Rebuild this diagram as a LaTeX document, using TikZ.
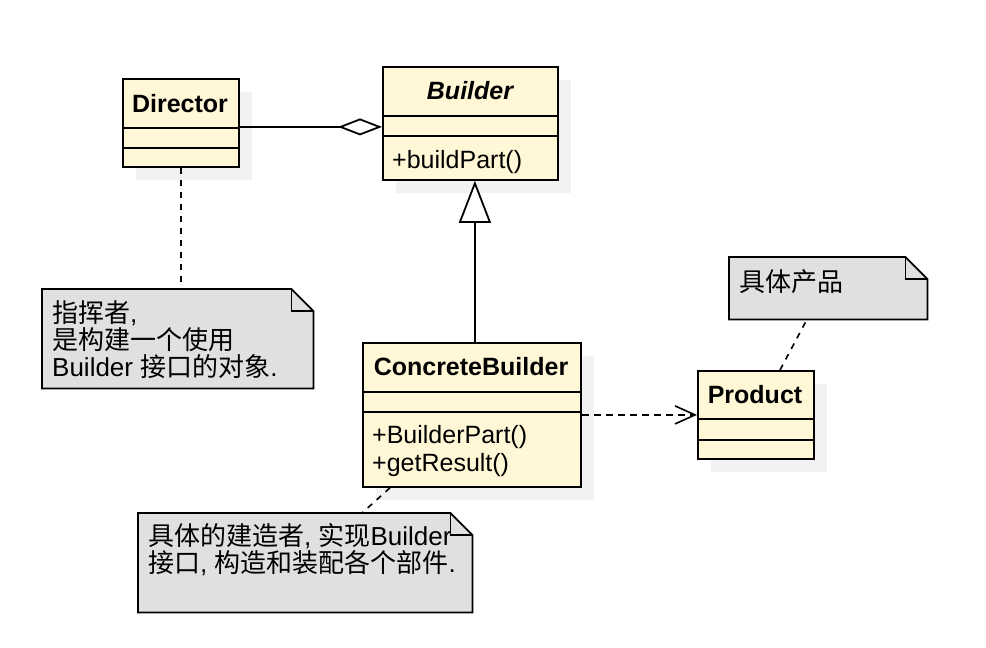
\documentclass[tikz,border=0pt]{standalone}
\usepackage{fontspec}
\setmainfont{Liberation Sans}
\newfontfamily\cjkfont{Noto Sans CJK SC}
\newcommand\zhtext[1]{{\cjkfont #1}}
\usetikzlibrary{arrows.meta,calc}
\definecolor{classfill}{HTML}{FFF7D6}
\definecolor{notefill}{HTML}{E0E0E0}
\definecolor{shadowc}{HTML}{F2F2F2}
\tikzset{
  classbox/.style={draw, line width=1.8pt, fill=classfill, inner sep=0pt, anchor=north west},
  classtitle/.style={inner sep=0pt, anchor=base, font=\fontsize{25}{28}\selectfont\bfseries},
  member/.style={inner sep=0pt, anchor=base west, font=\fontsize{25}{28}\selectfont},
  notearea/.style={inner sep=0pt, anchor=north west},
  notetext/.style={inner sep=0pt, anchor=north west, align=left, font=\fontsize{26}{27}\selectfont},
  noteshape/.style={draw, line width=1.8pt, fill=notefill, line join=miter},
  notelink/.style={line width=1.6pt, dash pattern=on 6pt off 6pt},
  divider/.style={line width=1.8pt},
  shadowbox/.style={fill=shadowc}
}
\newcommand\drawnote[1]{%
  \draw[noteshape] (#1.north west) -- ([xshift=-22pt]#1.north east) -- ([yshift=-22pt]#1.north east) -- (#1.south east) -- (#1.south west) -- cycle;
  \draw[line width=1.8pt] ([xshift=-22pt]#1.north east) -- ([xshift=-22pt,yshift=-22pt]#1.north east) -- ([yshift=-22pt]#1.north east);
}
\begin{document}
\begin{tikzpicture}[x=1pt,y=-1pt]
\useasboundingbox (0,0) rectangle (986,648);
\fill[white] (0,0) rectangle (986,648);

% shadows
\fill[shadowbox] (136,92) rectangle (252,180);
\fill[shadowbox] (396,80) rectangle (571,193);
\fill[shadowbox] (376,356) rectangle (594,500);
\fill[shadowbox] (711,384) rectangle (827,472);

% classes
\node[classbox, minimum width=116pt, minimum height=88pt] (dir) at (122,78) {};
\draw[divider] (dir.west |- 0,128) -- (dir.east |- 0,128);
\draw[divider] (dir.west |- 0,148) -- (dir.east |- 0,148);
\node[classtitle] (dirT) at (180,112) {Director};

\node[classbox, minimum width=175pt, minimum height=113pt] (bld) at (382,66) {};
\draw[divider] (bld.west |- 0,116) -- (bld.east |- 0,116);
\draw[divider] (bld.west |- 0,136) -- (bld.east |- 0,136);
\node[classtitle, font=\fontsize{25}{28}\selectfont\bfseries\itshape] (bldT) at (470,99) {Builder};
\node[member] (bldM) at (392,168) {+buildPart()};

\node[classbox, minimum width=218pt, minimum height=144pt] (cb) at (362,342) {};
\draw[divider] (cb.west |- 0,392) -- (cb.east |- 0,392);
\draw[divider] (cb.west |- 0,412) -- (cb.east |- 0,412);
\node[classtitle] (cbT) at (471,375) {ConcreteBuilder};
\node[member] (cbM1) at (372,443) {+BuilderPart()};
\node[member] (cbM2) at (372,471) {+getResult()};

\node[classbox, minimum width=116pt, minimum height=88pt] (prod) at (697,370) {};
\draw[divider] (prod.west |- 0,419) -- (prod.east |- 0,419);
\draw[divider] (prod.west |- 0,440) -- (prod.east |- 0,440);
\node[classtitle] (prodT) at (755,403) {Product};

% notes
\node[notearea, minimum width=271pt, minimum height=99pt] (n1) at (42,289) {};
\drawnote{n1}
\node[notetext] (n1t) at (52,300) {\zhtext{指挥者},\\\zhtext{是构建一个使用}\\Builder \zhtext{接口的对象}.};

\node[notearea, minimum width=334pt, minimum height=99pt] (n2) at (138,513) {};
\drawnote{n2}
\node[notetext] (n2t) at (148,523) {\zhtext{具体的建造者}, \zhtext{实现}Builder\\\zhtext{接口}, \zhtext{构造和装配各个部件}.};

\node[notearea, minimum width=198pt, minimum height=62pt] (n3) at (729,257) {};
\drawnote{n3}
\node[notetext] (n3t) at (739,269) {\zhtext{具体产品}};

% connectors
\draw[line width=1.8pt, -{Diamond[open, fill=white, length=44pt, width=17pt]}]
  ([yshift=-4pt]dir.east) -- ([yshift=-4pt]dir.east -| bld.west);
\coordinate (gbot) at ($(cb.north)+(3,0)$);
\draw[line width=1.8pt, -{Triangle[open, fill=white, length=42pt, width=32pt]}]
  (gbot) -- (gbot |- bld.south);
\draw[line width=1.6pt, dash pattern=on 7pt off 5pt, -{Straight Barb[length=20pt, width=18pt]}]
  (cb.east) -- (prod.west);
\draw[notelink] (dir.south) -- (dir.south |- n1.north);
\draw[notelink] ($(cb.south west)+(28,0)$) -- ($(n2.north west)+(224,0)$);
\draw[notelink] ($(prod.north west)+(83,0)$) -- ($(n3.south west)+(78,0)$);
\end{tikzpicture}
\end{document}
